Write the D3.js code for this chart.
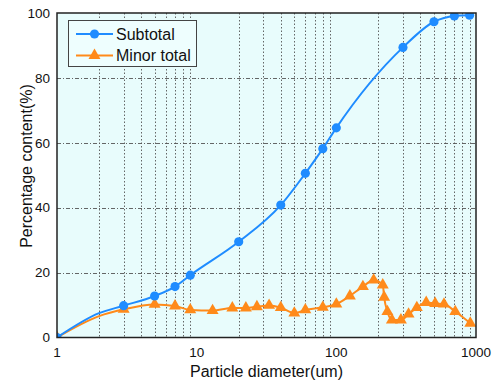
<!DOCTYPE html>
<html>
<head>
<meta charset="utf-8">
<script src="https://cdn.jsdelivr.net/npm/d3@7"></script>
<style>
  html, body { margin: 0; padding: 0; background: #ffffff; }
  svg { display: block; }
  text { font-family: "Liberation Sans", Arial, sans-serif; fill: #111; }
</style>
</head>
<body>
<svg id="chart" width="499" height="387"></svg>
<script>
// ---- data ----
const seriesNames = ["Subtotal", "Minor total"];
const subtotalDiameter = [1, 2, 3, 5, 7, 9, 20, 40, 60, 80, 100, 300, 500, 700, 900];
const subtotalValues   = [0, 7.5, 9.8, 12.8, 15.7, 19.2, 29.5, 40.8, 50.6, 58.2, 64.6, 89.4, 97.3, 99.1, 99.3];
const subtotalMarker   = [true, false, true, true, true, true, true, true, true, true, true, true, true, true, true];

const minorDiameter = [1, 2, 3, 5, 7, 9, 13, 18, 22.5, 27, 33, 40, 50, 60, 80, 100, 125, 155, 185, 215, 220, 232, 250, 290, 329, 377, 440, 510, 590, 710, 910];
const minorValues   = [0, 6.6, 8.7, 10.2, 9.7, 8.5, 8.3, 9.1, 9.1, 9.5, 9.9, 9.2, 7.5, 8.5, 9.3, 10.3, 12.8, 15.7, 17.7, 16.2, 12.4, 8.0, 5.4, 5.4, 7.2, 9.2, 10.8, 10.5, 10.3, 8.0, 4.4];
const minorMarker   = minorDiameter.map((d, i) => i !== 1);

const xTicks = [1, 10, 100, 1000];
const yTicks = [0, 20, 40, 60, 80, 100];
const xTitle = "Particle diameter(um)";
const yTitle = "Percentage content(%)";

// ---- layout ----
const W = 499, H = 387;
const m = { left: 57, right: 23, top: 13, bottom: 49.5 };
const pw = W - m.left - m.right, ph = H - m.top - m.bottom;
const blue = "#1f8cff", orange = "#ff8a1a", bg = "#e8fcfc";

const svg = d3.select("#chart");
const x = d3.scaleLog().domain([1, 1000]).range([m.left, m.left + pw]);
const y = d3.scaleLinear().domain([0, 100]).range([m.top + ph, m.top]);

svg.append("defs").append("clipPath").attr("id", "clip")
  .append("rect").attr("x", m.left).attr("y", m.top).attr("width", pw).attr("height", ph);

svg.append("rect").attr("x", m.left).attr("y", m.top).attr("width", pw).attr("height", ph).attr("fill", bg);

// vertical grid at minor log ticks
const minorGrid = x.ticks().filter(v => {
  const e = Math.round(Math.log10(v) * 1e6) / 1e6;
  return Math.abs(e - Math.round(e)) > 1e-6;
});
svg.append("g").selectAll("line").data(minorGrid).join("line")
  .attr("x1", d => Math.round(x(d)) + 0.5).attr("x2", d => Math.round(x(d)) + 0.5)
  .attr("y1", m.top).attr("y2", m.top + ph)
  .attr("stroke", "#555").attr("stroke-width", 0.9).attr("stroke-dasharray", "1.5,2");

// horizontal grid
svg.append("g").selectAll("line").data(yTicks.filter(v => v > 0 && v < 100)).join("line")
  .attr("x1", m.left).attr("x2", m.left + pw)
  .attr("y1", d => Math.round(y(d)) + 0.5).attr("y2", d => Math.round(y(d)) + 0.5)
  .attr("stroke", "#555").attr("stroke-width", 0.9).attr("stroke-dasharray", "4,2,1,2");

// series
const plotG = svg.append("g").attr("clip-path", "url(#clip)");
function drawSeries(xs, ys, marks, color, shape) {
  const pts = xs.map((d, i) => ({ x: d, y: ys[i], m: marks[i] }));
  const line = d3.line().x(d => x(d.x)).y(d => y(d.y)).curve(d3.curveMonotoneX);
  plotG.append("path").datum(pts).attr("d", line)
    .attr("fill", "none").attr("stroke", color).attr("stroke-width", 2);
  plotG.append("g").selectAll("path").data(pts.filter(d => d.m)).join("path")
    .attr("d", d3.symbol().type(shape).size(shape === d3.symbolCircle ? 66 : 62)())
    .attr("transform", d => `translate(${x(d.x)},${y(d.y)})`)
    .attr("fill", color);
}
drawSeries(minorDiameter, minorValues, minorMarker, orange, d3.symbolTriangle);
drawSeries(subtotalDiameter, subtotalValues, subtotalMarker, blue, d3.symbolCircle);

// frame
svg.append("rect").attr("x", m.left).attr("y", m.top).attr("width", pw).attr("height", ph)
  .attr("fill", "none").attr("stroke", "#222").attr("stroke-width", 1.5);

// tick labels
svg.append("g").selectAll("text").data(yTicks).join("text")
  .attr("x", 50).attr("y", d => y(d)).attr("dy", "0.35em")
  .attr("text-anchor", "end").attr("font-size", 13.5).text(d => d);
svg.append("g").selectAll("text").data(xTicks).join("text")
  .attr("x", d => x(d)).attr("y", 352).attr("dy", "0.35em")
  .attr("text-anchor", "middle").attr("font-size", 13.5).text(d => d);

// axis titles
svg.append("text").attr("x", m.left + pw / 2).attr("y", 377)
  .attr("text-anchor", "middle").attr("font-size", 16).text(xTitle);
svg.append("text").attr("transform", "translate(32,166) rotate(-90)")
  .attr("text-anchor", "middle").attr("font-size", 16).text(yTitle);

// legend
const lg = svg.append("g");
lg.append("rect").attr("x", 68.5).attr("y", 20.5).attr("width", 128).attr("height", 46)
  .attr("fill", "#eefefe").attr("stroke", "#444").attr("stroke-width", 1);
const legendItems = [
  { name: seriesNames[0], color: blue, shape: d3.symbolCircle, yy: 34 },
  { name: seriesNames[1], color: orange, shape: d3.symbolTriangle, yy: 55.5 }
];
legendItems.forEach(it => {
  lg.append("line").attr("x1", 76).attr("x2", 113).attr("y1", it.yy).attr("y2", it.yy)
    .attr("stroke", it.color).attr("stroke-width", 2);
  lg.append("path").attr("d", d3.symbol().type(it.shape).size(it.shape === d3.symbolCircle ? 66 : 62)())
    .attr("transform", `translate(94.5,${it.yy})`).attr("fill", it.color);
  lg.append("text").attr("x", 116).attr("y", it.yy).attr("dy", "0.35em")
    .attr("font-size", 16).text(it.name);
});
</script>
</body>
</html>
